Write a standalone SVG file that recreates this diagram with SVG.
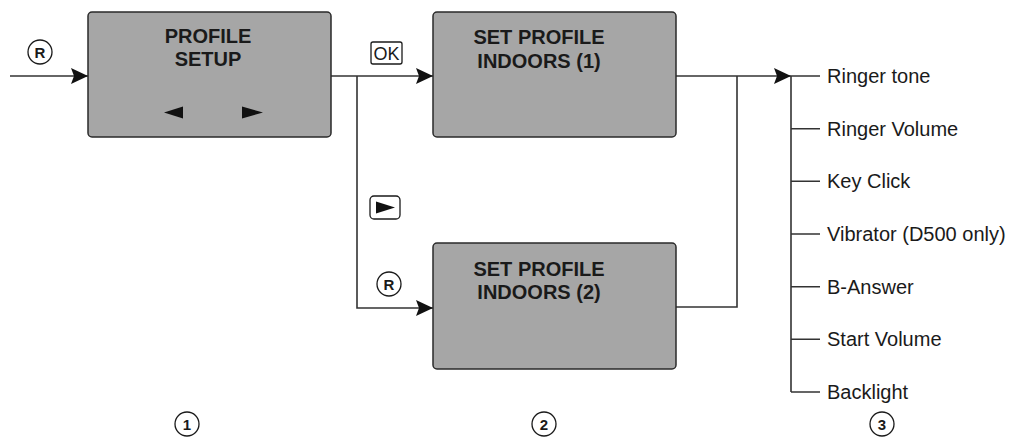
<svg xmlns="http://www.w3.org/2000/svg" width="1011" height="446" viewBox="0 0 1011 446">
<style>
.box{fill:#a6a6a6;stroke:#2a2a2a;stroke-width:1.5}
.title{font-family:"Liberation Sans",Arial,sans-serif;font-weight:bold;font-size:20px;fill:#1a1a1a;text-anchor:middle}
.item{font-family:"Liberation Sans",Arial,sans-serif;font-size:20px;fill:#1a1a1a}
.ln{fill:none;stroke:#333;stroke-width:1.6}
.key{fill:#fff;stroke:#1a1a1a;stroke-width:1.3}
.keyt{font-family:"Liberation Sans",Arial,sans-serif;font-weight:bold;font-size:15px;fill:#1a1a1a;text-anchor:middle}
.tri{fill:#111}
</style>
<defs>
<marker id="arr" markerUnits="userSpaceOnUse" markerWidth="18" markerHeight="18" refX="17" refY="8" orient="auto">
<path d="M0,0 L17,8 L0,16 L3,8 z" fill="#111"/>
</marker>
</defs>
<g id="connectors">
<path class="ln" d="M10,76 H88" marker-end="url(#arr)"/>
<path class="ln" d="M331,76 H433" marker-end="url(#arr)"/>
<path class="ln" d="M357,76 V308 H433" marker-end="url(#arr)"/>
<path class="ln" d="M676,76 H791" marker-end="url(#arr)"/>
<path class="ln" d="M676,307 H737 V76"/>
<path class="ln" d="M791,76 V392"/>
<path class="ln" d="M791,76 H820 M791,128.7 H820 M791,181.3 H820 M791,234 H820 M791,286.7 H820 M791,339.3 H820 M791,392 H820"/>
</g>
<g id="key-r-in">
<circle class="key" cx="40" cy="52" r="12"/>
<text class="keyt" x="40" y="57.5">R</text>
</g>
<g id="profile-setup">
<rect class="box" x="88" y="12" width="243" height="125" rx="4"/>
<text class="title" x="208" y="43">PROFILE</text>
<text class="title" x="208" y="66">SETUP</text>
<polygon class="tri" points="164,112.5 183,106.5 183,118.5"/>
<polygon class="tri" points="263,112.5 242,106.5 242,118.5"/>
</g>
<g id="key-ok">
<rect class="key" x="371" y="42" width="31" height="22" rx="2"/>
<text x="386.5" y="60" font-family="Liberation Sans, Arial, sans-serif" font-size="18" fill="#1a1a1a" text-anchor="middle">OK</text>
</g>
<g id="key-right">
<rect class="key" x="370" y="196" width="30" height="23" rx="4"/>
<polygon class="tri" points="376,201.5 395,207.5 376,213.5"/>
</g>
<g id="key-r-2">
<circle class="key" cx="389" cy="284" r="12"/>
<text class="keyt" x="389" y="289.5">R</text>
</g>
<g id="indoors-1">
<rect class="box" x="433" y="12" width="243" height="125" rx="4"/>
<text class="title" x="539" y="44">SET PROFILE</text>
<text class="title" x="539" y="68">INDOORS (1)</text>
</g>
<g id="indoors-2">
<rect class="box" x="433" y="243" width="243" height="126" rx="4"/>
<text class="title" x="539" y="276">SET PROFILE</text>
<text class="title" x="539" y="299">INDOORS (2)</text>
</g>
<g id="items">
<text class="item" x="827" y="83">Ringer tone</text>
<text class="item" x="827" y="135.7">Ringer Volume</text>
<text class="item" x="827" y="188.3">Key Click</text>
<text class="item" x="827" y="241">Vibrator (D500 only)</text>
<text class="item" x="827" y="293.7">B-Answer</text>
<text class="item" x="827" y="346.3">Start Volume</text>
<text class="item" x="827" y="399">Backlight</text>
</g>
<g id="step-1">
<circle class="key" cx="187" cy="424" r="12"/>
<text class="keyt" x="187" y="429.5">1</text>
</g>
<g id="step-2">
<circle class="key" cx="544" cy="424" r="12"/>
<text class="keyt" x="544" y="429.5">2</text>
</g>
<g id="step-3">
<circle class="key" cx="882" cy="424" r="12"/>
<text class="keyt" x="882" y="429.5">3</text>
</g>
</svg>
